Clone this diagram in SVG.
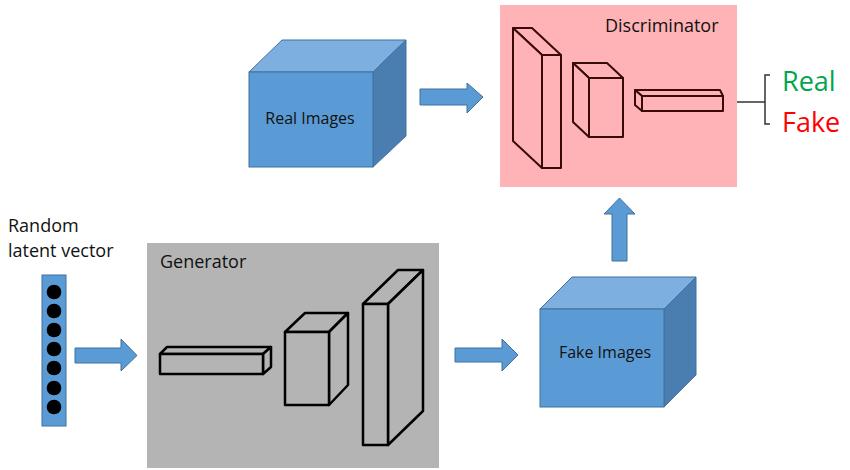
<svg xmlns="http://www.w3.org/2000/svg" width="850" height="470" viewBox="0 0 850 470">
<style>
.txt{font-family:"Open Sans","Liberation Sans",sans-serif;fill:#111;}
.front{fill:#5B9BD5;stroke:#41719C;stroke-width:1;}
.top{fill:#7DAFE0;stroke:#41719C;stroke-width:1;}
.side{fill:#4A7EB1;stroke:#41719C;stroke-width:1;}
.arrow{fill:#5B9BD5;stroke:#41719C;stroke-width:1;stroke-linejoin:miter;}
.gen{fill:#B4B4B4;stroke:#000;stroke-width:2.5;stroke-linejoin:round;}
.dis{fill:#FFB3B6;stroke:#3A0A0A;stroke-width:2;stroke-linejoin:round;}
</style>
<rect x="0" y="0" width="850" height="470" fill="#fff"/>

<g id="discriminator">
<rect x="500" y="5" width="237" height="182" fill="#FFB3B6"/>
<text class="txt" x="605" y="32" font-size="18">Discriminator</text>
<polygon class="dis" points="513,28 532,28 561,55 542,55"/>
<polygon class="dis" points="513,28 542,55 542,168 513,141"/>
<rect class="dis" x="542" y="55" width="19" height="113"/>
<polygon class="dis" points="573,63 607,63 623,78 589,78"/>
<polygon class="dis" points="573,63 589,78 589,137 573,122"/>
<rect class="dis" x="589" y="78" width="34" height="59"/>
<polygon class="dis" points="635,90 720,90 723,96 642,96"/>
<polygon class="dis" points="635,90 642,96 642,111 635,105"/>
<rect class="dis" x="642" y="96" width="81" height="15"/>
</g>

<g id="output">
<path d="M737,102 H765 M770,75 H765 V124 H770" fill="none" stroke="#333" stroke-width="1.5"/>
<text x="782" y="91" font-size="27" font-family="Open Sans, Liberation Sans, sans-serif" fill="#00A550">Real</text>
<text x="782" y="132" font-size="27" font-family="Open Sans, Liberation Sans, sans-serif" fill="#FF0000">Fake</text>
</g>

<g id="real-images">
<polygon class="top" points="249,72 282,40 406,40 373,72"/>
<polygon class="side" points="373,72 406,40 406,136 373,167"/>
<rect class="front" x="249" y="72" width="124" height="95"/>
<text class="txt" x="310" y="124" font-size="16" text-anchor="middle">Real Images</text>
</g>

<g id="latent">
<text class="txt" x="8" y="232" font-size="18">Random</text>
<text class="txt" x="8" y="257" font-size="18">latent vector</text>
<rect x="42" y="275" width="24" height="151" fill="#5B9BD5" stroke="#41719C" stroke-width="1"/>
<g fill="#000">
<circle cx="54" cy="292" r="7.3"/><circle cx="54" cy="311" r="7.3"/><circle cx="54" cy="330" r="7.3"/><circle cx="54" cy="349" r="7.3"/><circle cx="54" cy="368" r="7.3"/><circle cx="54" cy="388" r="7.3"/><circle cx="54" cy="407" r="7.3"/>
</g>
</g>

<g id="generator">
<rect x="147" y="243" width="292" height="225" fill="#B4B4B4"/>
<text class="txt" x="160" y="268" font-size="18">Generator</text>
<polygon class="gen" points="160,354 167,347 271,347 263,354"/>
<polygon class="gen" points="263,354 271,347 271,367 263,374"/>
<rect class="gen" x="160" y="354" width="103" height="20"/>
<polygon class="gen" points="285,332 305,313 348,313 329,332"/>
<polygon class="gen" points="329,332 348,313 348,385 329,405"/>
<rect class="gen" x="285" y="332" width="44" height="73"/>
<polygon class="gen" points="363,304 398,270 423,270 388,304"/>
<polygon class="gen" points="388,304 423,270 423,411 388,445"/>
<rect class="gen" x="363" y="304" width="25" height="141"/>
</g>

<g id="fake-images">
<polygon class="top" points="540,309 572,277 696,277 664,309"/>
<polygon class="side" points="664,309 696,277 696,375 664,407"/>
<rect class="front" x="540" y="309" width="124" height="98"/>
<text class="txt" x="605" y="358" font-size="16" text-anchor="middle">Fake Images</text>
</g>

<g id="connectors">
<polygon class="arrow" points="75,348 121,348 121,339 137,355.5 121,371 121,363 75,363"/>
<polygon class="arrow" points="455,348 502,348 502,339 518,355 502,371 502,362 455,362"/>
<polygon class="arrow" points="420,89 467,89 467,83 483,97 467,113 467,105 420,105"/>
<polygon class="arrow" points="612,261 612,214 604,214 619.5,198 635,214 627,214 627,261"/>
</g>
</svg>
